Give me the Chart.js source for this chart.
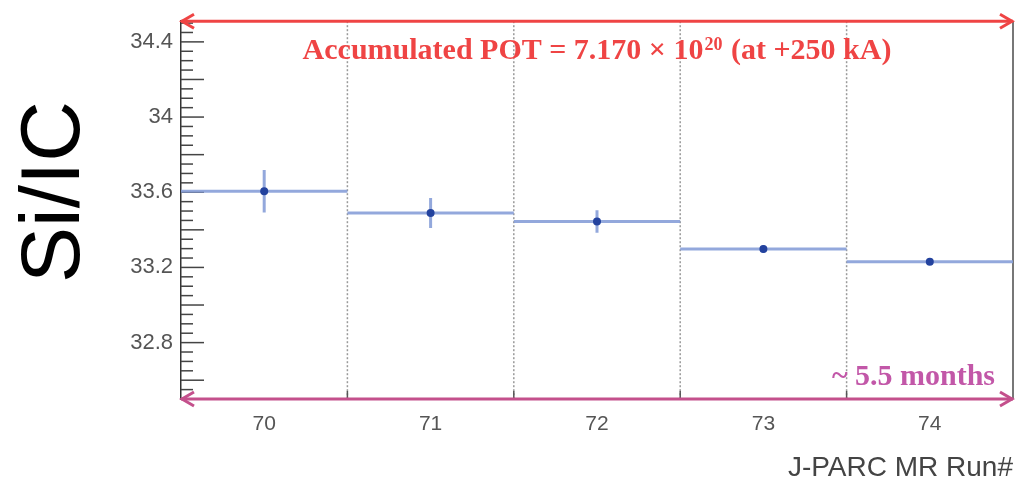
<!DOCTYPE html>
<html>
<head>
<meta charset="utf-8">
<title>Si/IC vs J-PARC MR Run#</title>
<script src="https://cdn.jsdelivr.net/npm/chart.js@4.4.1/dist/chart.umd.min.js"></script>
<style>
    html, body { margin: 0; padding: 0; background: #fff; }
    #wrap { width: 1017px; height: 482px; }
</style>
</head>
<body>
<div id="wrap"><canvas id="ratioChart" width="1017" height="482"></canvas></div>
<script>
// Data
const runs = [70, 71, 72, 73, 74];
const siOverIc = [33.605, 33.49, 33.444, 33.298, 33.23];
const siOverIcErr = [0.113, 0.08, 0.06, 0.02, 0.015];
const yTickLabels = [32.8, 33.2, 33.6, 34.0, 34.4];
const binEdges = [70.5, 71.5, 72.5, 73.5];

const BIN_COLOR = "rgba(135, 158, 216, 0.9)";
const MARKER_COLOR = "#23429e";
const RED = "#ef4444";
const PINK = "#c4508c";
const MAGENTA = "#c257a8";

// Build datasets: horizontal bin line, vertical error bar, marker
const datasets = [];
runs.forEach((run, i) => {
    datasets.push({
        data: [{ x: run - 0.5, y: siOverIc[i] }, { x: run + 0.5, y: siOverIc[i] }],
        showLine: true, borderColor: BIN_COLOR, borderWidth: 3, pointRadius: 0
    });
    datasets.push({
        data: [{ x: run, y: siOverIc[i] - siOverIcErr[i] }, { x: run, y: siOverIc[i] + siOverIcErr[i] }],
        showLine: true, borderColor: BIN_COLOR, borderWidth: 3, pointRadius: 0
    });
});
// markers on top of the bin lines
datasets.push({
    data: runs.map((run, i) => ({ x: run, y: siOverIc[i] })),
    order: -1,
    showLine: false, pointRadius: 4, pointBackgroundColor: MARKER_COLOR,
    pointBorderColor: MARKER_COLOR, pointBorderWidth: 0, pointStyle: "circle"
});

// Helper to draw an arrow head
function arrowHead(ctx, x, y, dir, color) {
    ctx.save();
    ctx.strokeStyle = color;
    ctx.lineWidth = 3;
    ctx.beginPath();
    ctx.moveTo(x - dir * 12, y - 7);
    ctx.lineTo(x, y);
    ctx.lineTo(x - dir * 12, y + 7);
    ctx.stroke();
    ctx.restore();
}

// ROOT-style frame: dotted bin edges, inward ticks, right border
const framePlugin = {
    id: "frame",
    beforeDatasetsDraw(chart) {
        const { ctx, chartArea, scales } = chart;
        const xs = scales.x, ys = scales.y;
        ctx.save();
        // dotted vertical lines at bin edges
        ctx.strokeStyle = "#9a9a9a";
        ctx.lineWidth = 1.5;
        ctx.setLineDash([2, 2]);
        binEdges.forEach(edge => {
            const px = xs.getPixelForValue(edge);
            ctx.beginPath();
            ctx.moveTo(px, chartArea.top);
            ctx.lineTo(px, chartArea.bottom);
            ctx.stroke();
        });
        ctx.setLineDash([]);
        // small x ticks at the bottom
        ctx.strokeStyle = "#555";
        binEdges.forEach(edge => {
            const px = xs.getPixelForValue(edge);
            ctx.beginPath();
            ctx.moveTo(px, chartArea.bottom);
            ctx.lineTo(px, chartArea.bottom - 8);
            ctx.stroke();
        });
        // y ticks every 0.05, longer every 0.2
        ctx.strokeStyle = "#444";
        ctx.lineWidth = 1.5;
        for (let k = 0; k <= 40; k++) {
            const v = 32.5 + k * 0.05;
            const py = ys.getPixelForValue(v);
            const len = (k % 4 === 2) ? 23 : 12;
            ctx.beginPath();
            ctx.moveTo(chartArea.left, py);
            ctx.lineTo(chartArea.left + len, py);
            ctx.stroke();
        }
        // right border
        ctx.strokeStyle = "#777";
        ctx.lineWidth = 2;
        ctx.beginPath();
        ctx.moveTo(chartArea.right, chartArea.top);
        ctx.lineTo(chartArea.right, chartArea.bottom);
        ctx.stroke();
        ctx.restore();
    },
    afterDatasetsDraw(chart) {
        const { ctx, chartArea } = chart;
        const { left, right, top, bottom } = chartArea;
        ctx.save();
        // red arrow along the top
        ctx.strokeStyle = RED;
        ctx.lineWidth = 3;
        ctx.beginPath();
        ctx.moveTo(left, top);
        ctx.lineTo(right, top);
        ctx.stroke();
        arrowHead(ctx, left + 1, top, -1, RED);
        arrowHead(ctx, right - 1, top, 1, RED);
        // pink arrow along the bottom
        ctx.strokeStyle = PINK;
        ctx.beginPath();
        ctx.moveTo(left, bottom);
        ctx.lineTo(right, bottom);
        ctx.stroke();
        arrowHead(ctx, left + 1, bottom, -1, PINK);
        arrowHead(ctx, right - 1, bottom, 1, PINK);

        // POT annotation with superscript
        const mainFont = "bold 30px 'Liberation Serif', serif";
        const supFont = "bold 18px 'Liberation Serif', serif";
        const partA = "Accumulated POT = 7.170 \u00d7 10";
        const partSup = "20";
        const partB = " (at +250 kA)";
        ctx.font = mainFont;
        const wA = ctx.measureText(partA).width;
        const wB = ctx.measureText(partB).width;
        ctx.font = supFont;
        const wS = ctx.measureText(partSup).width + 2;
        let x = (left + right) / 2 - (wA + wS + wB) / 2;
        const baseY = top + 38;
        ctx.fillStyle = RED;
        ctx.textBaseline = "alphabetic";
        ctx.textAlign = "left";
        ctx.font = mainFont;
        ctx.fillText(partA, x, baseY);
        x += wA + 1;
        ctx.font = supFont;
        ctx.fillText(partSup, x, baseY - 9);
        x += wS - 1;
        ctx.font = mainFont;
        ctx.fillText(partB, x, baseY);

        // duration annotation
        ctx.fillStyle = MAGENTA;
        ctx.textAlign = "right";
        ctx.fillText("~ 5.5 months", right - 18, bottom - 14);

        // y axis title
        ctx.translate(56, 192);
        ctx.rotate(-Math.PI / 2);
        ctx.fillStyle = "#000";
        ctx.font = "84px 'Liberation Sans', Arial, sans-serif";
        ctx.textAlign = "center";
        ctx.textBaseline = "middle";
        ctx.fillText("Si/IC", 0, 0);
        ctx.restore();
    }
};

const ratioChart = new Chart(document.getElementById("ratioChart").getContext("2d"), {
    type: "scatter",
    data: { datasets: datasets },
    options: {
        responsive: false,
        animation: false,
        layout: { padding: { top: 20, right: 4, left: 0, bottom: 0 } },
        plugins: { legend: { display: false }, tooltip: { enabled: false } },
        scales: {
            x: {
                type: "linear",
                min: 69.5,
                max: 74.5,
                afterBuildTicks: axis => { axis.ticks = runs.map(v => ({ value: v })); },
                afterFit: axis => { axis.height = 83; },
                grid: { display: false, drawTicks: false },
                border: { display: false },
                ticks: {
                    padding: 13,
                    color: "#555",
                    font: { family: "'Liberation Sans', Arial, sans-serif", size: 21 },
                    callback: v => String(v)
                },
                title: {
                    display: true,
                    text: "J-PARC MR Run#",
                    align: "end",
                    color: "#444",
                    padding: { top: 0, bottom: -3 },
                    font: { family: "'Liberation Sans', Arial, sans-serif", size: 28 }
                }
            },
            y: {
                min: 32.5,
                max: 34.51,
                afterBuildTicks: axis => { axis.ticks = yTickLabels.map(v => ({ value: v })); },
                afterFit: axis => { axis.width = 181; },
                grid: { display: false, drawTicks: false },
                border: { display: true, color: "#333", width: 1.5 },
                ticks: {
                    padding: 8,
                    color: "#555",
                    font: { family: "'Liberation Sans', Arial, sans-serif", size: 22 },
                    callback: v => String(+Number(v).toFixed(1))
                }
            }
        }
    },
    plugins: [framePlugin]
});
</script>
</body>
</html>
